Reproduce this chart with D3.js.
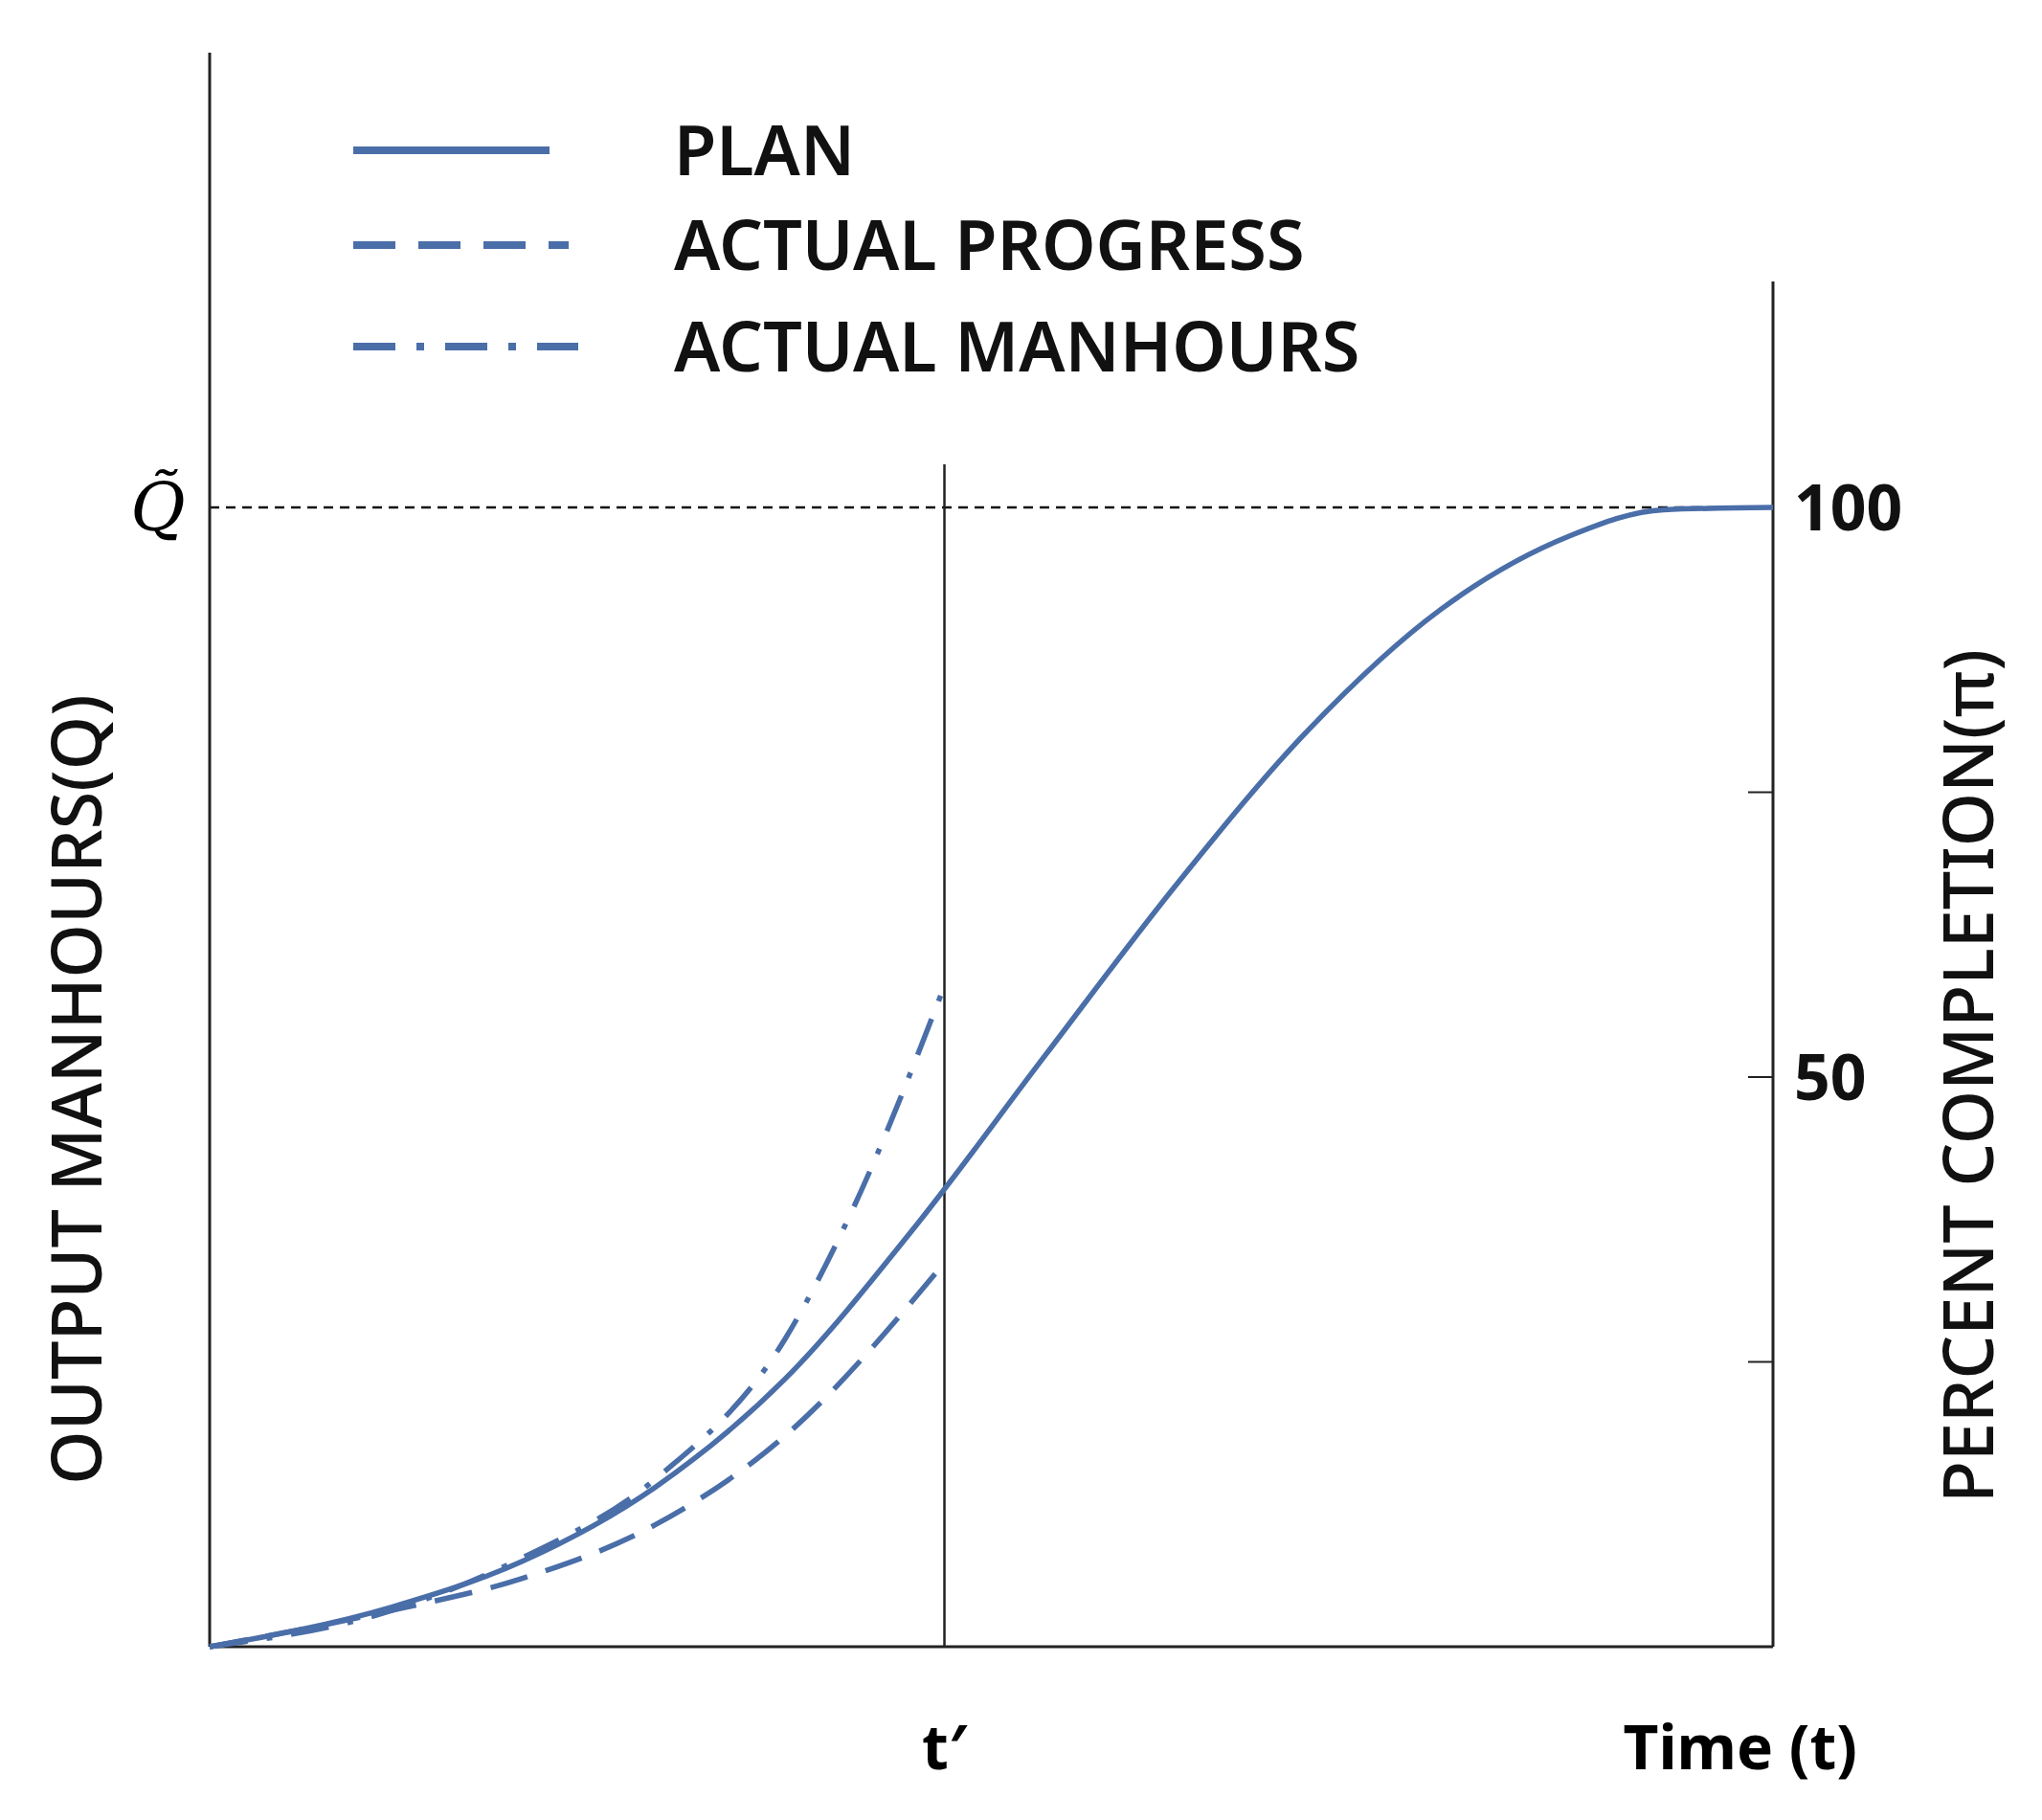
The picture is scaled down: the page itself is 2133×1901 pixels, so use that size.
<!DOCTYPE html><html><head><meta charset="utf-8">
<script src="https://cdn.jsdelivr.net/npm/d3@7"></script>
<style>body{margin:0;background:#fff}</style></head><body>
<svg id="c" width="2133" height="1901"></svg>
<script>
const planT = [0,0.117,0.2,0.285,0.368,0.452,0.535,0.619,0.703,0.787,0.87,0.93,1.0];
const planV = [0,3.5,7.5,14,23.5,37,52,67,80.5,91,97.5,99.8,100];
const progT = [0,0.117,0.2,0.285,0.368,0.47];
const progV = [0,3.2,6,10.7,18.5,33.7];
const manT = [0,0.117,0.2,0.285,0.368,0.41,0.47];
const manV = [0,3.2,7.8,14.7,27,38,58];
const tPrime = 0.47;
const rightTicks = [25,50,75,100];
const rightLabels = [50,100];
const legendNames = ["PLAN","ACTUAL PROGRESS","ACTUAL MANHOURS"];

const svg = d3.select("#c");
const L=219,R=1852,B=1720,T100=530;
const x = d3.scaleLinear().domain([0,1]).range([L,R]);
const y = d3.scaleLinear().domain([0,100]).range([B,T100]);
const col = "#4a6ea8";
const font = "'Noto Sans', 'Open Sans', sans-serif";

svg.append("line").attr("x1",L).attr("x2",R).attr("y1",y(100)).attr("y2",y(100))
  .attr("stroke","#111").attr("stroke-width",2.5).attr("stroke-dasharray","10,7");
svg.append("line").attr("x1",L).attr("x2",L).attr("y1",55).attr("y2",B).attr("stroke","#222").attr("stroke-width",3);
svg.append("line").attr("x1",L).attr("x2",R).attr("y1",B).attr("y2",B).attr("stroke","#222").attr("stroke-width",3);
svg.append("line").attr("x1",R).attr("x2",R).attr("y1",294).attr("y2",B).attr("stroke","#222").attr("stroke-width",3);
svg.selectAll(".tk").data(rightTicks).enter().append("line")
  .attr("x1",R-26).attr("x2",R).attr("y1",d=>y(d)).attr("y2",d=>y(d)).attr("stroke","#222").attr("stroke-width",2);
svg.selectAll(".tl").data(rightLabels).enter().append("text")
  .attr("x",R+22).attr("y",d=>y(d)+24).text(d=>d)
  .attr("font-family",font).attr("font-weight",700).attr("font-size",66).attr("fill","#111");
svg.append("line").attr("x1",x(tPrime)).attr("x2",x(tPrime)).attr("y1",485).attr("y2",B).attr("stroke","#222").attr("stroke-width",2.5);

const line = d3.line().curve(d3.curveMonotoneX);
function draw(ts,vs,dash){
  svg.append("path").attr("d",line(ts.map((t,i)=>[x(t),y(vs[i])])))
   .attr("fill","none").attr("stroke",col).attr("stroke-width",5.5).attr("stroke-dasharray",dash);
}
draw(progT,progV,"40,20");
draw(manT,manV,"40,20,6,20");
draw(planT,planV,null);

const dashes=[null,"44,24","44,22,8,22"];
legendNames.forEach((n,i)=>{
  const yy=[157,256,362][i];
  svg.append("line").attr("x1",369).attr("x2",[574,594,604][i]).attr("y1",yy).attr("y2",yy)
    .attr("stroke",col).attr("stroke-width",8).attr("stroke-dasharray",dashes[i]);
  svg.append("text").attr("x",704).attr("y",yy+26).text(n)
    .attr("font-family",font).attr("font-weight",600).attr("font-size",72).attr("fill","#111");
});
svg.append("text").attr("x",165).attr("y",y(100)+24).attr("text-anchor","middle")
  .attr("font-family","'DejaVu Serif',serif").attr("font-style","italic").attr("font-size",70).text("Q\u0303");
svg.append("text").attr("transform","translate(106,1138) rotate(-90)").attr("text-anchor","middle")
  .attr("font-family",font).attr("font-weight",500).attr("font-size",72).attr("fill","#111").text("OUTPUT MANHOURS(Q)");
svg.append("text").attr("transform","translate(2082,1124) rotate(-90)").attr("text-anchor","middle")
  .attr("font-family",font).attr("font-weight",500).attr("font-size",72).attr("fill","#111").text("PERCENT COMPLETION(π)");
svg.append("text").attr("x",x(tPrime)).attr("y",1848).attr("text-anchor","middle")
  .attr("font-family",font).attr("font-weight",700).attr("font-size",64).text("t′");
svg.append("text").attr("x",1940).attr("y",1848).attr("text-anchor","end")
  .attr("font-family",font).attr("font-weight",700).attr("font-size",64).text("Time (t)");
</script></body></html>
